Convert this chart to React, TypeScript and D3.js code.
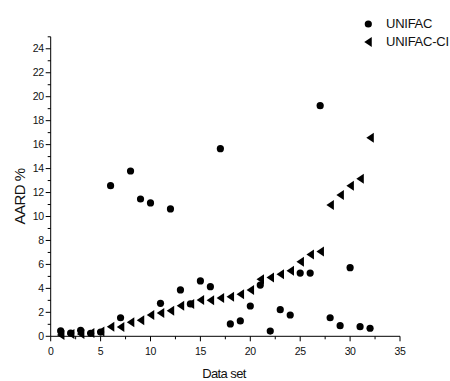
import React from 'react';
import * as d3 from 'd3';

// Data set index (1..32)
const dataSets = d3.range(1, 33);

const unifac = [
    0.45, 0.27, 0.5, 0.25, 0.35, 12.57, 1.55, 13.8, 11.46, 11.13,
    2.75, 10.63, 3.87, 2.7, 4.62, 4.14, 15.66, 1.03, 1.28, 2.53,
    4.28, 0.44, 2.22, 1.78, 5.28, 5.28, 19.25, 1.55, 0.89, 5.73,
    0.8, 0.67,
];

const unifacCI = [
    0.1, 0.2, 0.2, 0.28, 0.4, 0.8, 0.77, 1.17, 1.33, 1.78,
    1.94, 2.14, 2.56, 2.7, 3.03, 3.0, 3.2, 3.31, 3.5, 3.87,
    4.76, 4.9, 5.17, 5.48, 6.23, 6.82, 7.07, 10.96, 11.8, 12.57,
    13.16, 16.58,
];

const xTicks = [0, 5, 10, 15, 20, 25, 30, 35];
const yTicks = [0, 2, 4, 6, 8, 10, 12, 14, 16, 18, 20, 22, 24];

const W = 450, H = 381;
const FONT = '"Liberation Sans", Arial, sans-serif';

const App: React.FC = () => {
    const x = d3.scaleLinear().domain([0, 35]).range([50.7, 400]);
    const y = d3.scaleLinear().domain([0, 25]).range([336.3, 36.8]);

    const xMinor = d3.range(0, 35.01, 2.5);
    const yMinor = d3.range(0, 25.01, 1);

    const tri = (cx: number, cy: number) => {
        const w = 7.5, h = 10;
        return `M${cx - w / 2},${cy} L${cx + w / 2},${cy - h / 2} L${cx + w / 2},${cy + h / 2} Z`;
    };

    return (
        <svg width={W} height={H} style={{ position: 'absolute', left: 0, top: 0, background: '#fff' }}
            fontFamily={FONT} fill="#111">
            {/* axes */}
            <line x1={x(0)} x2={x(0)} y1={y(0)} y2={y(25)} stroke="#000" strokeWidth={1} />
            <line x1={x(0)} x2={x(35)} y1={y(0)} y2={y(0)} stroke="#000" strokeWidth={1} />

            {yMinor.map(v => (
                <line key={'ym' + v} x1={x(0) - (v % 2 === 0 ? 5 : 3)} x2={x(0)} y1={y(v)} y2={y(v)} stroke="#000" strokeWidth={1} />
            ))}
            {xMinor.map(v => (
                <line key={'xm' + v} x1={x(v)} x2={x(v)} y1={y(0)} y2={y(0) + (v % 5 === 0 ? 5 : 3)} stroke="#000" strokeWidth={1} />
            ))}

            {yTicks.map(v => (
                <text key={'yt' + v} x={x(0) - 7} y={y(v)} dy="0.35em" textAnchor="end" fontSize={10.5}
                    letterSpacing={-0.4}>{v}</text>
            ))}
            {xTicks.map(v => (
                <text key={'xt' + v} x={x(v)} y={355} textAnchor="middle" fontSize={10.5}
                    letterSpacing={-0.4}>{v}</text>
            ))}

            <text x={224} y={378} textAnchor="middle" fontSize={13} letterSpacing={-0.6}>Data set</text>
            <text transform={`translate(24.5,196.5) rotate(-90)`} textAnchor="middle" fontSize={15} letterSpacing={-0.5}>AARD %</text>

            {/* UNIFAC-CI */}
            {dataSets.map((d, i) => (
                <path key={'t' + d} d={tri(x(d), y(unifacCI[i]))} fill="#000" />
            ))}
            {/* UNIFAC */}
            {dataSets.map((d, i) => (
                <circle key={'c' + d} cx={x(d)} cy={y(unifac[i])} r={3.6} fill="#000" />
            ))}

            {/* legend */}
            <circle cx={368.3} cy={24} r={3.6} fill="#000" />
            <text x={386} y={28} fontSize={13} letterSpacing={-0.25}>UNIFAC</text>
            <path d={tri(368, 42)} fill="#000" />
            <text x={386} y={46} fontSize={13} letterSpacing={-0.25}>UNIFAC-CI</text>
        </svg>
    );
};

export default App;
